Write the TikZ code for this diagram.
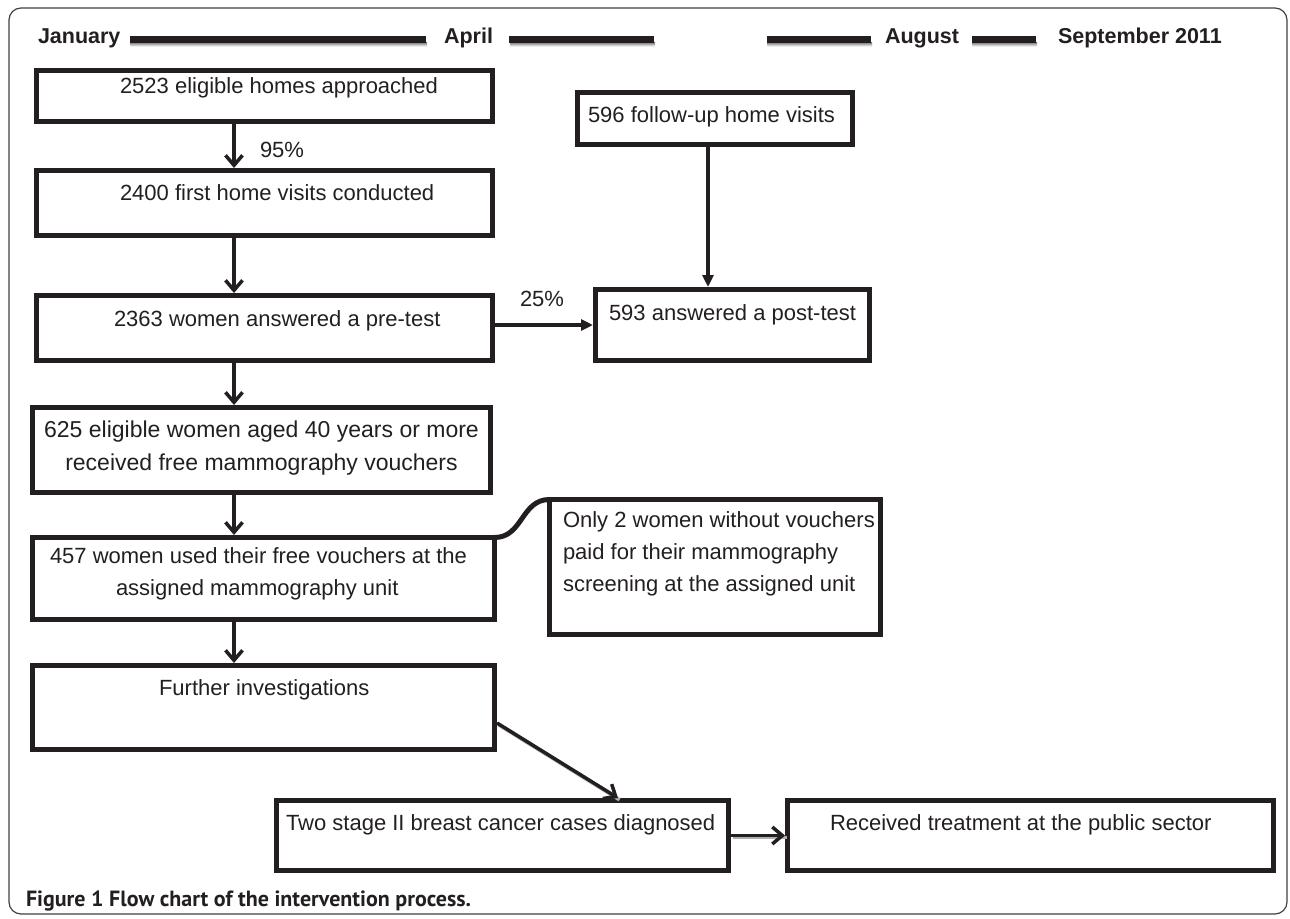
\documentclass[tikz,border=0pt]{standalone}
\usepackage{fontspec}
\setmainfont{Liberation Sans}
\newfontfamily\capfont{PT Sans}
\usetikzlibrary{arrows.meta}
\definecolor{ink}{RGB}{35,31,32}
\definecolor{shade}{RGB}{175,175,175}
\begin{document}
\begin{tikzpicture}[x=1pt,y=-1pt,
  box/.style={draw=ink, line width=5pt, inner sep=0pt, outer sep=2.5pt, rectangle},
  lbl/.style={font=\fontsize{22}{26}\selectfont, text=ink, anchor=base west, inner sep=0pt, outer sep=0pt},
  lblc/.style={font=\fontsize{23}{28}\selectfont, text=ink, anchor=base, inner sep=0pt, outer sep=0pt},
  hdr/.style={font=\bfseries\fontsize{21.5}{26}\selectfont, text=ink, anchor=base west, inner sep=0pt, outer sep=0pt},
  capt/.style={font=\capfont\bfseries\fontsize{22}{26}\selectfont, text=ink, anchor=base west, inner sep=0pt, outer sep=0pt},
  varrow/.style={draw=ink, line width=3.5pt, -{Straight Barb[length=10pt,width=17pt]}},
  farrow/.style={draw=ink, line width=4pt, -{Triangle[length=12pt,width=11pt]}},
  shadowline/.style={draw=shade, line width=3.5pt, transform canvas={xshift=1.5pt,yshift=-1.8pt}},
]
\useasboundingbox (0,0) rectangle (1290,918);
% outer frame
\draw[black!75, line width=1.2pt, rounded corners=12pt] (9,8) rectangle (1287,914);

% header
\node[hdr] (jan) at (38,43.3) {January};
\node[hdr] (apr) at (444,43.3) {April};
\node[hdr] (aug) at (885,43.3) {August};
\node[hdr] (sep) at (1058,43.3) {September 2011};
\fill[shade] (130.5,42.5) rectangle (427,46.5);
\fill[ink] (129.5,36) rectangle (426,42.7);
\fill[shade] (510,42.5) rectangle (655,46.5);
\fill[ink] (509,36) rectangle (654,42.7);
\fill[shade] (767.5,42.5) rectangle (872,46.5);
\fill[ink] (766.5,36) rectangle (871,42.7);
\fill[shade] (972.5,42.5) rectangle (1037,46.5);
\fill[ink] (971.7,36) rectangle (1036,42.7);

% boxes
\node[box, minimum width=456pt, minimum height=51pt] (A) at (264.5,96) {};
\node[box, minimum width=456pt, minimum height=65pt] (B) at (264.5,203) {};
\node[box, minimum width=456pt, minimum height=65pt] (C) at (264.5,328) {};
\node[box, minimum width=458pt, minimum height=85pt] (D) at (261.5,450) {};
\node[box, minimum width=462pt, minimum height=82pt] (E) at (263.5,578.5) {};
\node[box, minimum width=462pt, minimum height=84pt] (G) at (263.5,707.5) {};
\node[box, minimum width=452pt, minimum height=70pt] (G2) at (502.5,835.5) {};
\node[box, minimum width=486pt, minimum height=70pt] (H) at (1030.5,835.5) {};
\node[box, minimum width=331pt, minimum height=135pt] (F) at (715,567) {};
\node[box, minimum width=275pt, minimum height=52pt] (P) at (715,118.5) {};
\node[box, minimum width=274pt, minimum height=71pt] (Q) at (732.5,325) {};

% texts
\node[lbl] (tA) at (120,93) {2523 eligible homes approached};
\node[lbl] (tB) at (120,200) {2400 first home visits conducted};
\node[lbl] (tC) at (114,326.7) {2363 women answered a pre-test};
\node[lblc] (tD1) at (261.5,437) {625 eligible women aged 40 years or more};
\node[lblc] (tD2) at (261.5,470) {received free mammography vouchers};
\node[lbl] (tE1) at (50,563) {457 women used their free vouchers at the};
\node[lbl] (tE2) at (116,595) {assigned mammography unit};
\node[lbl] (tG) at (159,695) {Further investigations};
\node[lbl] (tG2) at (286,830) {Two stage II breast cancer cases diagnosed};
\node[lbl] (tH) at (830,830) {Received treatment at the public sector};
\node[lbl] (tF1) at (563,527) {Only 2 women without vouchers};
\node[lbl] (tF2) at (563,559) {paid for their mammography};
\node[lbl] (tF3) at (563,591) {screening at the assigned unit};
\node[lbl] (tP) at (588,122) {596 follow-up home visits};
\node[lbl] (tQ) at (609,320) {593 answered a post-test};
\node[lbl] (p95) at (260,157.7) {95\%};
\node[lbl] (p25) at (520,306.7) {25\%};
\node[capt] (cap) at (26,906) {Figure 1 Flow chart of the intervention process.};

% connectors
\coordinate (ax) at (234,0);
\coordinate (px) at (708,0);
\coordinate (gy) at (0,723);
\coordinate (gx) at (618,0);
\draw[varrow] (A.south -| ax) -- (B.north -| ax);
\draw[varrow] (B.south -| ax) -- (C.north -| ax);
\draw[varrow] (C.south -| ax) -- (D.north -| ax);
\draw[varrow] (D.south -| ax) -- (E.north -| ax);
\draw[varrow] (E.south -| ax) -- (G.north -| ax);
\draw[farrow] (C.east |- Q.west) -- (Q.west);
\draw[farrow] (P.south -| px) -- (Q.north -| px);
\draw[draw=ink, line width=5pt] ([xshift=-2.5pt,yshift=-2.5pt]E.north east) .. controls (523,537.5) and (521,499.5) .. ([xshift=2.5pt,yshift=-2.5pt]F.north west);
\draw[shadowline] (G.east |- gy) -- (G2.north -| gx);
\draw[varrow] (G.east |- gy) -- (G2.north -| gx);
\draw[shadowline] (G2.east) -- (H.west);
\draw[varrow] (G2.east) -- (H.west);
\end{tikzpicture}
\end{document}
